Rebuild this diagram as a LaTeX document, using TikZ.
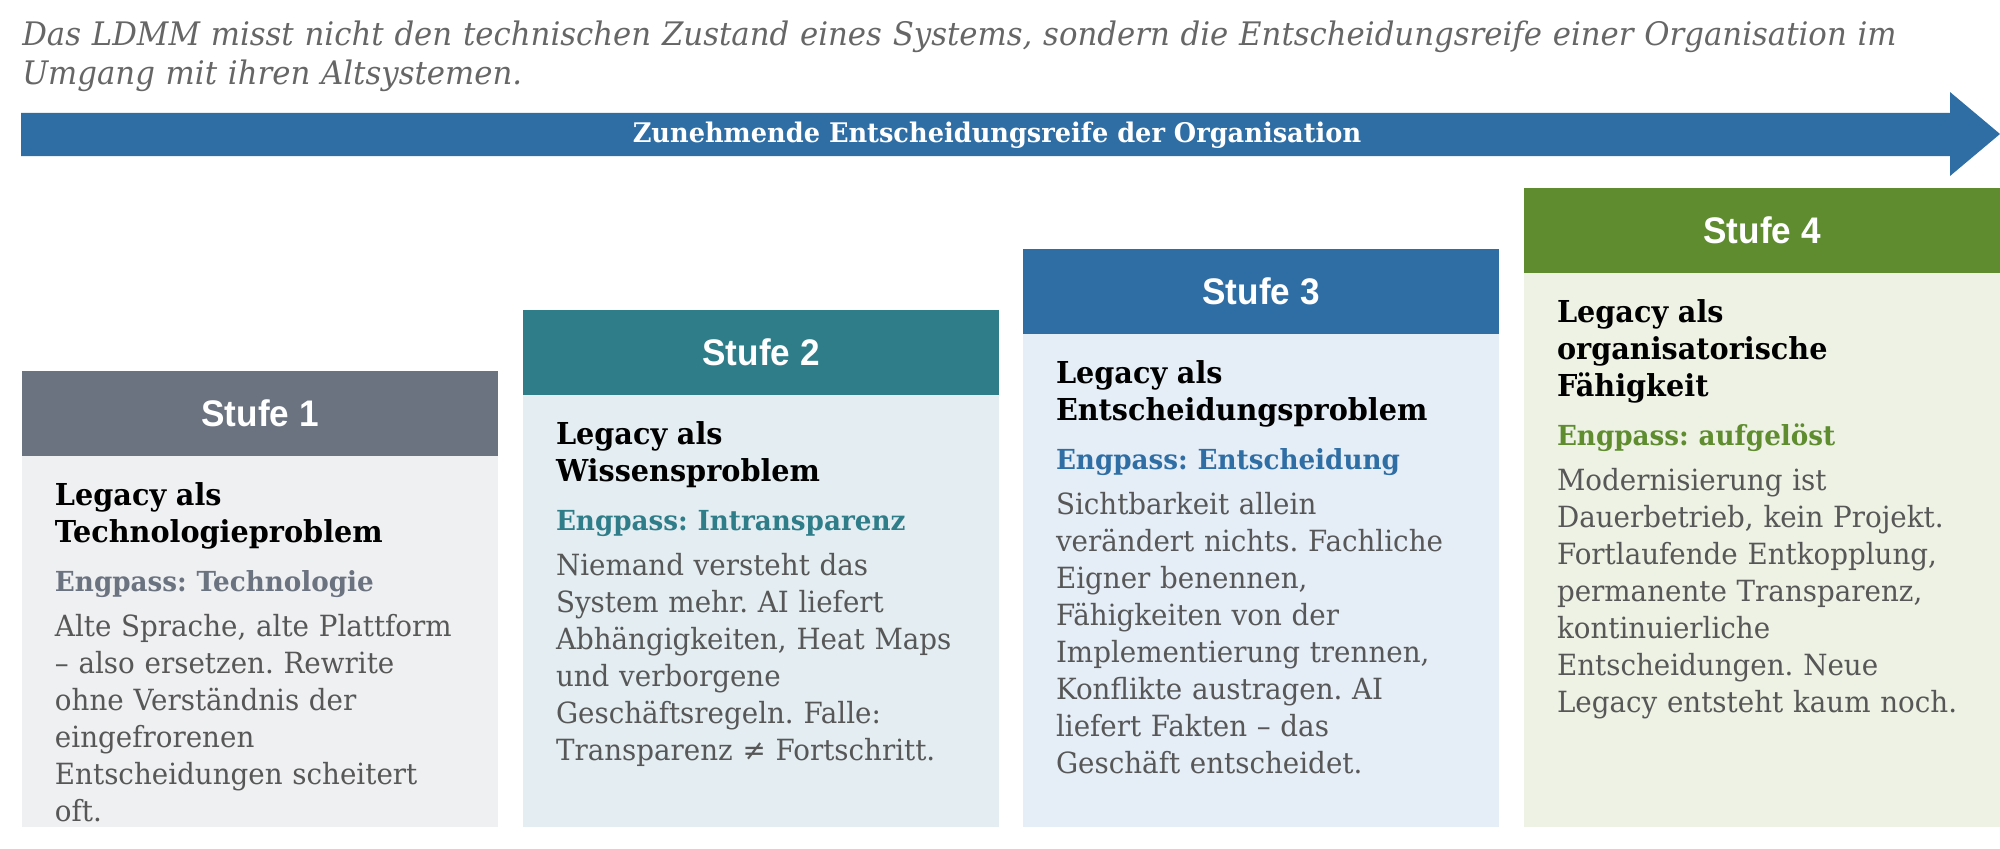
\documentclass[tikz,border=0pt]{standalone}
\usepackage{fontspec}
\setmainfont{DejaVu Serif}[FakeStretch=0.95]
\newfontfamily\hdrfont{Liberation Sans}[FakeStretch=0.95]
\frenchspacing
\definecolor{titlegray}{HTML}{666666}
\definecolor{arrowblue}{HTML}{2F6EA5}
\definecolor{bodytext}{HTML}{575757}
\definecolor{hgray}{HTML}{6B7280}
\definecolor{bgray}{HTML}{EFF0F2}
\definecolor{hteal}{HTML}{2E7D89}
\definecolor{bteal}{HTML}{E3EDF2}
\definecolor{hblue}{HTML}{2F6EA5}
\definecolor{bblue}{HTML}{E5EDF6}
\definecolor{hgreen}{HTML}{5E8C2E}
\definecolor{bgreen}{HTML}{EDF2E4}
\newcommand{\pxs}[2][27.75pt]{\fontsize{#2\dimexpr 0.75pt\relax}{#1}\selectfont}
\begin{document}
\frenchspacing
\begin{tikzpicture}[x=0.75pt,y=-0.75pt,
  hdr/.style={rectangle,anchor=north west,minimum width=357pt,minimum height=63.75pt,inner sep=0,outer sep=0,
    text=white,font={\hdrfont\bfseries\pxs{37}}},
  bodybox/.style={rectangle,anchor=north west,minimum width=357pt,inner sep=0,outer sep=0},
  stext/.style={anchor=north west,inner sep=0,outer sep=0,text width=345pt,align=left,
    text=bodytext,font={\frenchspacing\pxs{29.2}}},
]
\useasboundingbox (0,0) rectangle (2000,849);
% title
\node[anchor=north west,inner sep=0,text width=1490pt,align=left,text=titlegray,font={\frenchspacing\itshape\pxs[28.8pt]{32.4}}] (title) at (22,21)
 {Das LDMM misst nicht den technischen Zustand eines Systems, sondern die Entscheidungsreife einer Organisation im\\ Umgang mit ihren Altsystemen.};
% arrow
\fill[arrowblue] (21,113) -- (1950,113) -- (1950,92) -- (2000,134) -- (1950,176) -- (1950,156) -- (21,156) -- cycle;
\node[text=white,font={\frenchspacing\bfseries\pxs{27}},inner sep=0] (arrowlabel) at (997,135) {Zunehmende Entscheidungsreife der Organisation};
% boxes
\newcommand{\stufe}[9]{%
  \node[bodybox,fill=#5,minimum height={(827-#3-85)*0.75pt}] (b#1) at (#2,#3+85) {};
  \node[hdr,fill=#4] (h#1) at (#2,#3) {Stufe #6};
  \node[stext] (t#1) at (#2+33,#3+85+27)
   {{\bfseries\color{black}\pxs{30.2}#7}\\[9pt]
    {\bfseries\color{#4}\pxs{27.6}#8}\\[6pt]
    #9};
}
\stufe{1}{22}{371}{hgray}{bgray}{1}{Legacy als\\Technologieproblem}{Engpass: Technologie}
 {Alte Sprache, alte Plattform\\– also ersetzen. Rewrite\\ohne Verständnis der\\eingefrorenen\\Entscheidungen scheitert\\oft.}
\stufe{2}{523}{310}{hteal}{bteal}{2}{Legacy als\\Wissensproblem}{Engpass: Intransparenz}
 {Niemand versteht das\\System mehr. AI liefert\\Abhängigkeiten, Heat Maps\\und verborgene\\Geschäftsregeln. Falle:\\Transparenz ≠ Fortschritt.}
\stufe{3}{1023}{249}{hblue}{bblue}{3}{Legacy als\\Entscheidungsproblem}{Engpass: Entscheidung}
 {Sichtbarkeit allein\\verändert nichts. Fachliche\\Eigner benennen,\\Fähigkeiten von der\\Implementierung trennen,\\Konflikte austragen. AI\\liefert Fakten – das\\Geschäft entscheidet.}
\stufe{4}{1524}{188}{hgreen}{bgreen}{4}{Legacy als\\organisatorische\\Fähigkeit}{Engpass: aufgelöst}
 {Modernisierung ist\\Dauerbetrieb, kein Projekt.\\Fortlaufende Entkopplung,\\permanente Transparenz,\\kontinuierliche\\Entscheidungen. Neue\\Legacy entsteht kaum noch.}
\end{tikzpicture}
\end{document}
